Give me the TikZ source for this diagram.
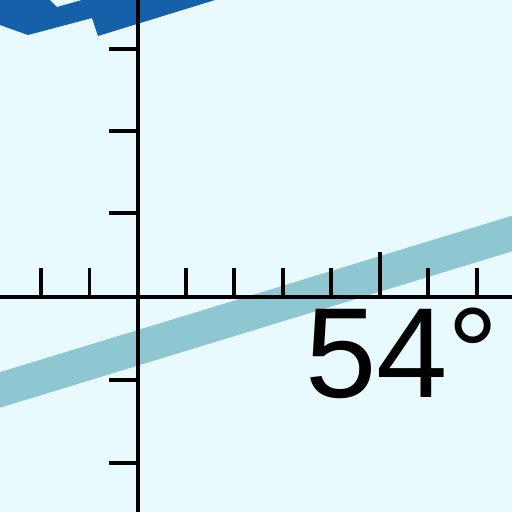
\documentclass[tikz,border=0pt]{standalone}
\usepackage{fontspec}
\setsansfont{Liberation Sans}
\usepackage{xcolor}
\usetikzlibrary{positioning}
\definecolor{skybg}{HTML}{E8FAFD}
\definecolor{shoreteal}{HTML}{8EC6D2}
\definecolor{deepblue}{HTML}{1560A8}

\begin{document}
\begin{tikzpicture}[
  x=0.02cm, y=-0.02cm,
  axis/.style={black, line width=0.07cm},
  tick/.style={black, line width=0.07cm},
  band/.style={shoreteal, line width=0.68cm},
  angle/.style={font=\sffamily\fontsize{73}{73}\selectfont, inner sep=0pt, anchor=base west}
]
\fill[skybg] (0,0) rectangle (512,512);
\useasboundingbox (0,0) rectangle (512,512);
\clip (0,0) rectangle (512,512);
% bands
\draw[band] (-20,396) -- (540,225);
\fill[deepblue] (0,0) -- (50,0) -- (57,7) -- (82,0) -- (215,0) -- (98,36)
  -- (92,18) -- (28,35) -- (0,25) -- cycle;
% axes
\coordinate (xl) at (0,297);
\coordinate (xr) at (512,297);
\coordinate (yt) at (138,0);
\coordinate (yb) at (138,512);
\draw[axis] (xl) -- (xr);
\draw[axis] (yt) -- (yb);
\foreach \x in {41,89.5,186,234,283,331,428,477}
  \draw[tick] (\x,297) -- (\x,268);
\draw[tick] (380,297) -- (380,252);
\foreach \y in {49,131,213,380,463}
  \draw[tick] (138,\y) -- (109,\y);
\node[angle] (deg) at (305,397) {54°};
\end{tikzpicture}
\end{document}
